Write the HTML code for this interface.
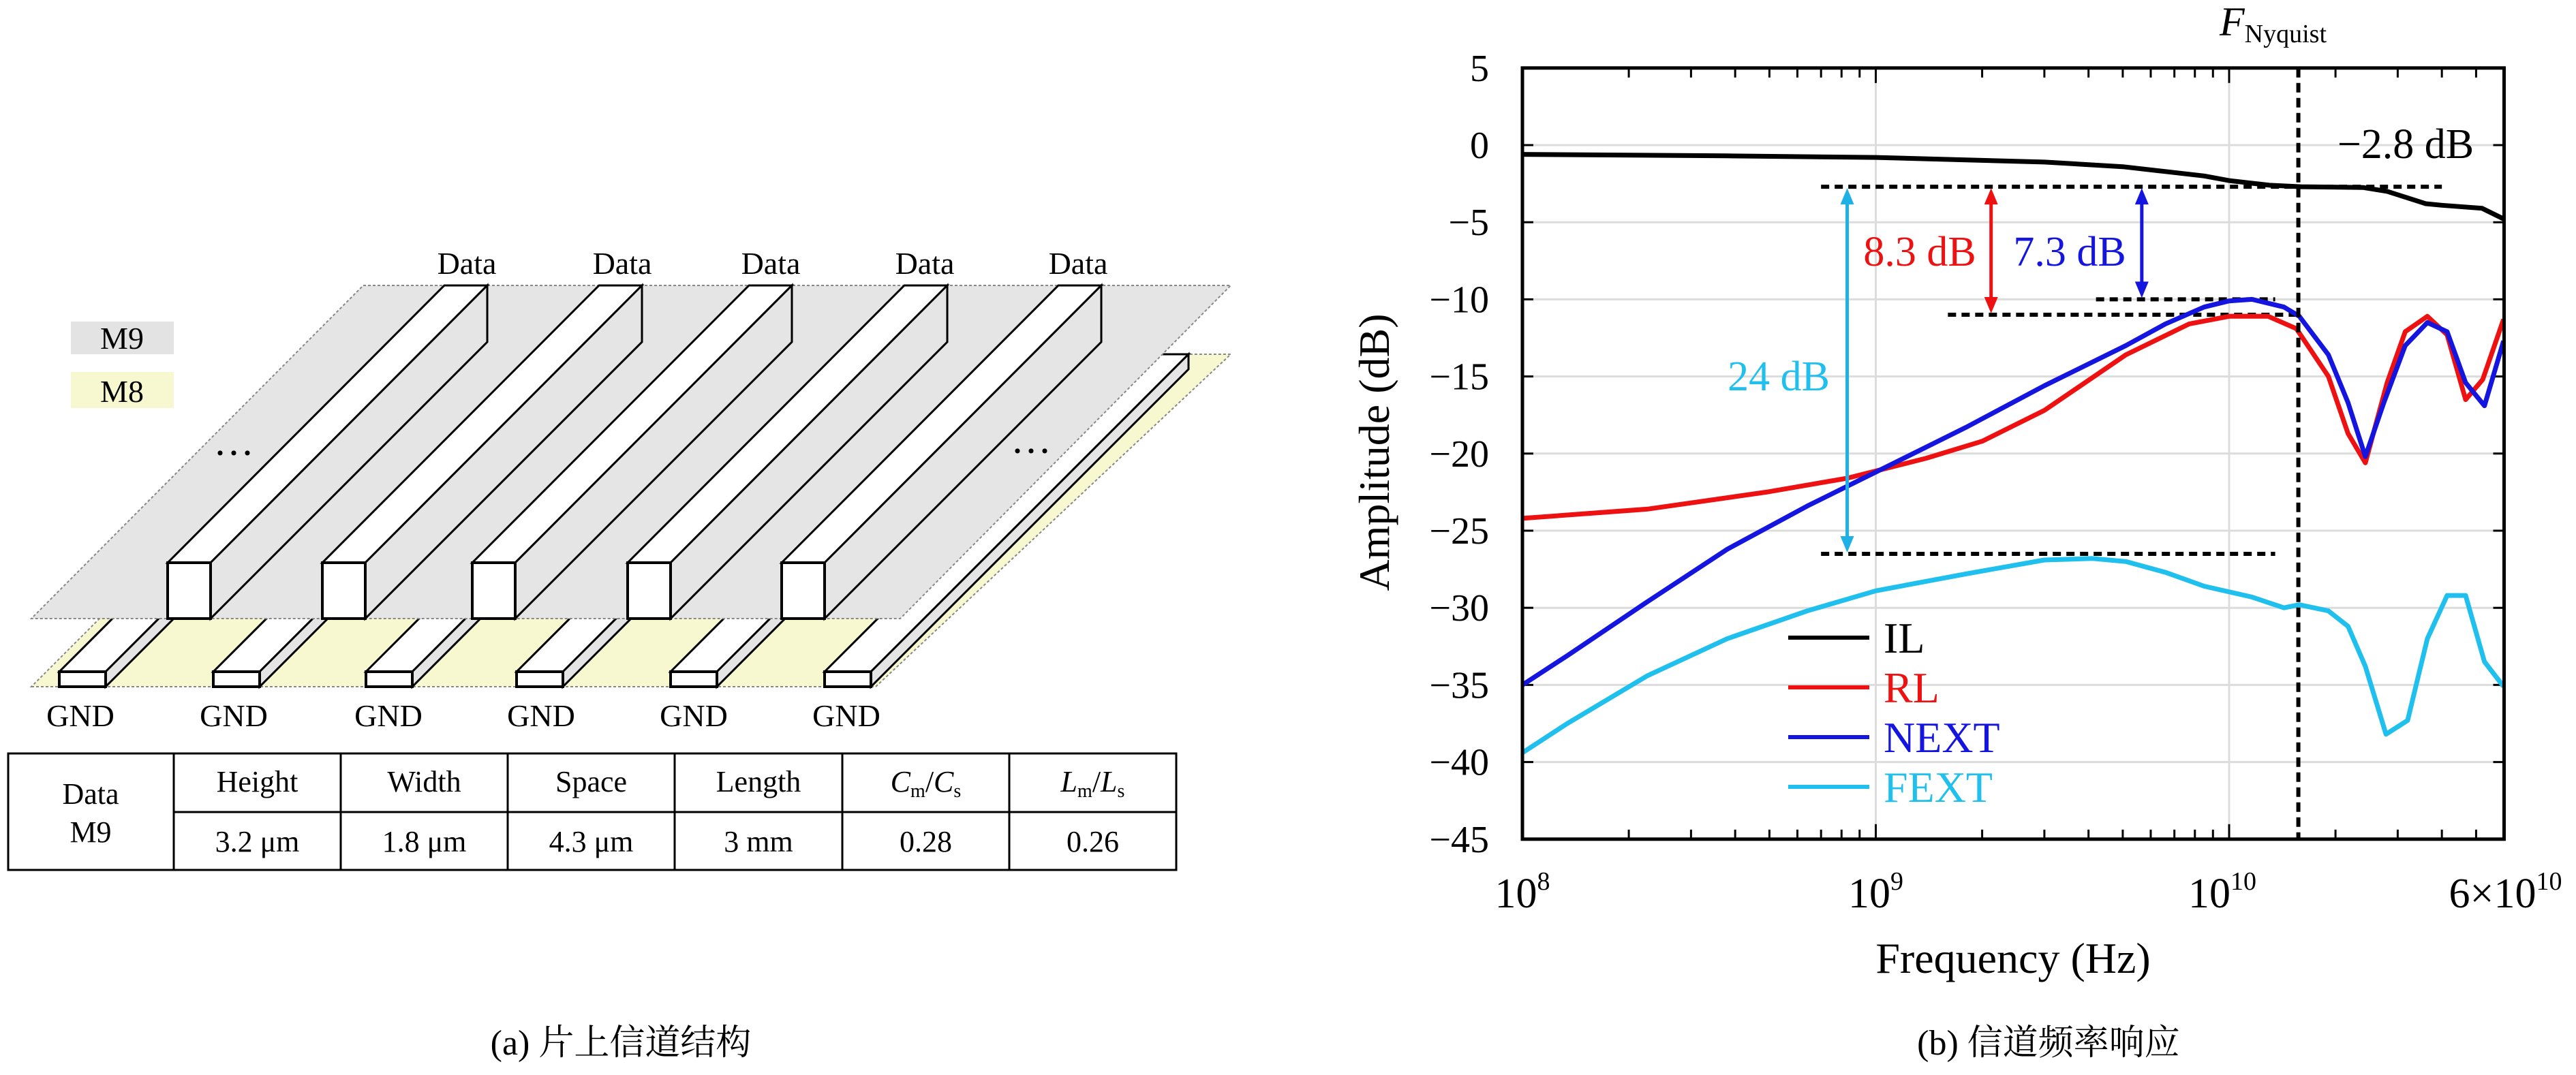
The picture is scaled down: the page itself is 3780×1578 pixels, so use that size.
<!DOCTYPE html>
<html><head><meta charset="utf-8">
<style>
html,body{margin:0;padding:0;background:#fff;}
svg{display:block;}
text{font-family:"Liberation Serif","Noto Serif CJK SC","Noto Sans CJK SC",serif;}
</style></head>
<body>
<svg id="root" width="3780" height="1578" viewBox="0 0 3780 1578" xmlns="http://www.w3.org/2000/svg">
<rect x="0" y="0" width="3780" height="1578" fill="#fff"/>
<g id="left"></g>
<g id="table"></g>
<text x="911" y="1548" font-size="52" text-anchor="middle">(a) 片上信道结构</text>
<g id="chart"></g>
<text x="3006" y="1548" font-size="52" text-anchor="middle">(b) 信道频率响应</text>
</svg>
<script>
// ---------- chart data ----------
const ilFreq = [0.1,0.38,1,3,5,8.5,10,13,16,24,28,36,40,52,60];
const ilDb = [-0.6,-0.7,-0.8,-1.1,-1.4,-2.0,-2.3,-2.6,-2.7,-2.75,-3.0,-3.8,-3.9,-4.1,-4.8];
const rlFreq = [0.1,0.226,0.49,0.83,1.39,2.0,3.0,5.1,7.7,10,12.9,15.5,19.1,21.7,24.3,28,31.5,36.4,41.4,46.7,52.2,59.8];
const rlDb = [-24.2,-23.6,-22.5,-21.6,-20.3,-19.2,-17.2,-13.6,-11.6,-11.1,-11.1,-11.9,-15.0,-18.7,-20.6,-15.4,-12.1,-11.1,-12.3,-16.5,-15.2,-11.3];
const nextFreq = [0.1,0.134,0.226,0.38,0.64,1,1.8,3.0,5.1,6.6,8.5,10,11.6,14.3,15.8,19.1,21.7,24.3,27.4,31.5,36.4,41.4,46.7,52.8,59.8];
const nextDb = [-35,-33.1,-29.6,-26.2,-23.4,-21.2,-18.3,-15.6,-13.0,-11.6,-10.5,-10.1,-10.0,-10.5,-11.1,-13.6,-16.7,-20.2,-16.7,-13.0,-11.5,-12.1,-15.4,-16.9,-12.7];
const fextFreq = [0.1,0.134,0.226,0.38,0.64,1,1.8,3.0,4.1,5.1,6.6,8.5,11.6,14.3,15.8,19.1,21.7,24.3,27.8,32,36.4,41.4,46.7,52.8,59.8];
const fextDb = [-39.4,-37.5,-34.4,-32.0,-30.2,-28.9,-27.8,-26.9,-26.8,-27.0,-27.7,-28.6,-29.3,-30.0,-29.8,-30.2,-31.2,-33.8,-38.2,-37.3,-32.0,-29.2,-29.2,-33.5,-35.1];
const yTicks = [5,0,-5,-10,-15,-20,-25,-30,-35,-40,-45];
const xDecades = [0.1,1,10];
const xDecadeExp = ["8","9","10"];
const nyquistGHz = 15.7;
const refLevels = [-2.7,-10,-11,-26.5];

const NS="http://www.w3.org/2000/svg";
function mk(tag, attrs, parent){const e=document.createElementNS(NS,tag);for(const k in attrs)e.setAttribute(k,attrs[k]);parent.appendChild(e);return e;}
const X0=2234, DEC=518.5, Y0=213, PDB=22.64;
function xs(g){return X0+(Math.log10(g*1e9)-8)*DEC;}
function ys(d){return Y0-d*PDB;}
const chart=document.getElementById('chart');
const L=xs(0.1), R=xs(60), T=ys(5), B=ys(-45);

yTicks.forEach(v=>{ if(v<5&&v>-45){const l=mk('line',{x1:L,x2:R,y1:ys(v),y2:ys(v),stroke:'#dcdcdc','stroke-width':3},chart);

}});
[1,10].forEach(v=>{const l=mk('line',{x1:xs(v),x2:xs(v),y1:T,y2:B,stroke:'#dcdcdc','stroke-width':3},chart);

});

yTicks.forEach(v=>{
  mk('line',{x1:L,x2:L+16,y1:ys(v),y2:ys(v),stroke:'#000','stroke-width':3},chart);
  mk('line',{x1:R,x2:R-16,y1:ys(v),y2:ys(v),stroke:'#000','stroke-width':3},chart);
  const t=mk('text',{x:2185,y:ys(v)+19,'font-size':56,'text-anchor':'end'},chart);
  t.textContent=(v<0?'\u2212'+(-v):String(v));
  
  
});
for(let d=0.1; d<60; d*=10){
  for(let m=1;m<10;m++){const f=d*m; if(f>60) break;
    const len=(m===1)?22:14;
    mk('line',{x1:xs(f),x2:xs(f),y1:B,y2:B-len,stroke:'#000','stroke-width':3},chart);
    mk('line',{x1:xs(f),x2:xs(f),y1:T,y2:T+len,stroke:'#000','stroke-width':3},chart);
  }
}
xDecades.forEach((v,i)=>{
  const t=mk('text',{x:xs(v)+(i===2?-10:0),y:1332,'font-size':62,'text-anchor':'middle'},chart);
  
  
  t.textContent='10';
  const s=mk('tspan',{'font-size':38,dy:-26},t); s.textContent=xDecadeExp[i];
});
{const t=mk('text',{x:R+2,y:1332,'font-size':62,'text-anchor':'middle'},chart);


t.textContent='6\u00d710';const s=mk('tspan',{'font-size':38,dy:-26},t);s.textContent='10';}

{const t=mk('text',{x:2954,y:1428,'font-size':64,'text-anchor':'middle'},chart);t.textContent='Frequency (Hz)';

}
{const t=mk('text',{x:0,y:0,'font-size':64,'text-anchor':'middle',transform:'translate(2038,664) rotate(-90)'},chart);t.textContent='Amplitude (dB)';

}

const refSpans=[[0.7,40],[4.2,13.5],[1.6,16],[0.7,13.5]];
refLevels.forEach((v,i)=>{const l=mk('line',{x1:xs(refSpans[i][0]),x2:xs(refSpans[i][1]),y1:ys(v),y2:ys(v),stroke:'#000','stroke-width':6,'stroke-dasharray':'12 8'},chart);

});

function series(fr,db,color,name){
  const p=fr.map((f,i)=>(i?'L':'M')+xs(f).toFixed(1)+','+ys(db[i]).toFixed(1)).join(' ');
  const e=mk('path',{d:p,fill:'none',stroke:color,'stroke-width':7,'stroke-linejoin':'round'},chart);
  
  
}
series(fextFreq,fextDb,'#1fbfee','fext-line');
series(rlFreq,rlDb,'#ee1111','rl-line');
series(nextFreq,nextDb,'#1515e0','next-line');
series(ilFreq,ilDb,'#000','il-line');

{const l=mk('line',{x1:xs(nyquistGHz),x2:xs(nyquistGHz),y1:T,y2:B,stroke:'#000','stroke-width':6,'stroke-dasharray':'14 8'},chart);

}
{const t=mk('text',{x:3257,y:52,'font-size':60,'font-style':'italic'},chart);t.textContent='F';


const s=mk('tspan',{'font-size':38,'font-style':'normal',dy:10},t);s.textContent='Nyquist';}

function arrow(xg,v1,v2,color,name){
  const x=xs(xg), y1=ys(v1), y2=ys(v2);
  const g=mk('g',{},chart);
  
  
  mk('line',{x1:x,x2:x,y1:y1+20,y2:y2-20,stroke:color,'stroke-width':5},g);
  mk('path',{d:`M${x},${y1+2} L${x-10},${y1+26} L${x+10},${y1+26}Z`,fill:color},g);
  mk('path',{d:`M${x},${y2-2} L${x-10},${y2-26} L${x+10},${y2-26}Z`,fill:color},g);
}
arrow(0.83,-2.7,-26.5,'#1fb0e6','fext-arrow');
arrow(2.12,-2.7,-11,'#ee1111','rl-arrow');
arrow(5.66,-2.7,-10,'#1515e0','next-arrow');
function lab(x,y,s,c,name){const t=mk('text',{x:x,y:y,'font-size':62,fill:c,'text-anchor':'middle'},chart);t.textContent=s;

}
lab(2817,390,'8.3 dB','#ee1111','rl-margin-label');
lab(3037,390,'7.3 dB','#1515e0','next-margin-label');
lab(2610,573,'24 dB','#1fbfee','fext-margin-label');
lab(3530,232,'\u22122.8 dB','#000','il-value-label');

const legNames=['IL','RL','NEXT','FEXT'], legColors=['#000','#ee1111','#1515e0','#1fbfee'];
legNames.forEach((n,i)=>{const y=936+i*73;
  const g=mk('g',{},chart);
  
  
  mk('line',{x1:2624,x2:2743,y1:y,y2:y,stroke:legColors[i],'stroke-width':6},g);
  const t=mk('text',{x:2764,y:y+22,'font-size':64,fill:legColors[i]},g);t.textContent=n;
});

{const r=mk('rect',{x:L,y:T,width:R-L,height:B-T,fill:'none',stroke:'#000','stroke-width':5},chart);

}

// ---------- left diagram ----------
const left=document.getElementById('left');
{const p=mk('polygon',{points:'46,1008 1285,1008 1806,520 534,520',fill:'#f8f8d0',stroke:'#888','stroke-width':2,'stroke-dasharray':'4 3'},left);

}
const gndX=[87,313,537,758,984,1210];
function gnd(x0,i){
  const g=mk('g',{},left);
  
  
  const w=68,h=22,yb=1008,yt=yb-h,dep=466;
  mk('polygon',{points:`${x0},${yt} ${x0+w},${yt} ${x0+w+dep},${yt-dep} ${x0+dep},${yt-dep}`,fill:'#fff',stroke:'#000','stroke-width':3},g);
  mk('polygon',{points:`${x0+w},${yt} ${x0+w},${yb} ${x0+w+dep},${yb-dep} ${x0+w+dep},${yt-dep}`,fill:'#e4e4e4',stroke:'#000','stroke-width':3},g);
  mk('rect',{x:x0,y:yt,width:w,height:h,fill:'#fff',stroke:'#000','stroke-width':4},g);
}
gndX.forEach((x,i)=>gnd(x,i));
{const p=mk('polygon',{points:'533,419 1806,419 1321,908 46,908',fill:'#e5e5e5',stroke:'#888','stroke-width':2,'stroke-dasharray':'4 3'},left);

}
const dataX=[246,473,693,921,1147];
dataX.forEach(x0=>{
  const g=mk('g',{},left);
  
  
  const w=63,yt=826,yb=908,d=406;
  mk('polygon',{points:`${x0},${yt} ${x0+w},${yt} ${x0+w+d},${yt-d-1} ${x0+d},${yt-d-1}`,fill:'#fff',stroke:'#000','stroke-width':3},g);
  mk('polygon',{points:`${x0+w},${yt} ${x0+w},${yb} ${x0+w+d},${yb-d} ${x0+w+d},${yt-d-1}`,fill:'#e5e5e5',stroke:'#000','stroke-width':3},g);
  mk('rect',{x:x0,y:yt,width:w,height:yb-yt,fill:'#fff',stroke:'#000','stroke-width':4},g);
});
function tx(x,y,s,fs,name,anchor){const t=mk('text',{x:x,y:y,'font-size':fs,'text-anchor':anchor||'middle'},left);t.textContent=s;

return t;}
[685,913,1131,1357,1582].forEach(x=>tx(x,402,'Data',46,'data-label'));
[118,343,570,794,1018,1242].forEach(x=>tx(x,1066,'GND',46,'gnd-label'));
tx(343,685,'\u00b7\u00b7\u00b7',60,'ellipsis-left');
tx(1513,682,'\u00b7\u00b7\u00b7',60,'ellipsis-right');
{const r=mk('rect',{x:104,y:472,width:151,height:48,fill:'#e3e3e3'},left);

}
{const r=mk('rect',{x:104,y:546,width:151,height:53,fill:'#f8f8d0'},left);

}
tx(179,512,'M9',46,'m9-legend-label');
tx(179,590,'M8',46,'m8-legend-label');

// ---------- table ----------
const tb=document.getElementById('table');
const colX=[12,255,500,745,990,1236,1481,1726];
mk('rect',{x:12,y:1106,width:1714,height:171,fill:'none',stroke:'#000','stroke-width':3},tb);
mk('line',{x1:255,x2:1726,y1:1192,y2:1192,stroke:'#000','stroke-width':3},tb);
colX.slice(1,7).forEach(x=>mk('line',{x1:x,x2:x,y1:1106,y2:1277,stroke:'#000','stroke-width':3},tb));
const head=['Height','Width','Space','Length'];
const vals=['3.2 \u03bcm','1.8 \u03bcm','4.3 \u03bcm','3 mm','0.28','0.26'];
function tt(x,y,s,name){const t=mk('text',{x:x,y:y,'font-size':44,'text-anchor':'middle'},tb);t.textContent=s;

return t;}
tt(133,1180,'Data','row-header');
tt(133,1236,'M9','row-header');
head.forEach((h,i)=>tt((colX[i+1]+colX[i+2])/2,1162,h,'column-header'));
function ratio(x,a){const t=mk('text',{x:x,y:1162,'font-size':44,'text-anchor':'middle','font-style':'italic'},tb);


t.appendChild(document.createTextNode(a));
const s1=mk('tspan',{'font-size':28,'font-style':'normal',dy:8},t);s1.textContent='m';
const s2=mk('tspan',{dy:-8,'font-style':'normal'},t);s2.textContent='/';
t.appendChild(document.createTextNode(a));
const s3=mk('tspan',{'font-size':28,'font-style':'normal',dy:8},t);s3.textContent='s';}
ratio((colX[5]+colX[6])/2,'C');
ratio((colX[6]+colX[7])/2,'L');
vals.forEach((v,i)=>tt((colX[i+1]+colX[i+2])/2,1250,v,'table-value'));
</script>
</body></html>
